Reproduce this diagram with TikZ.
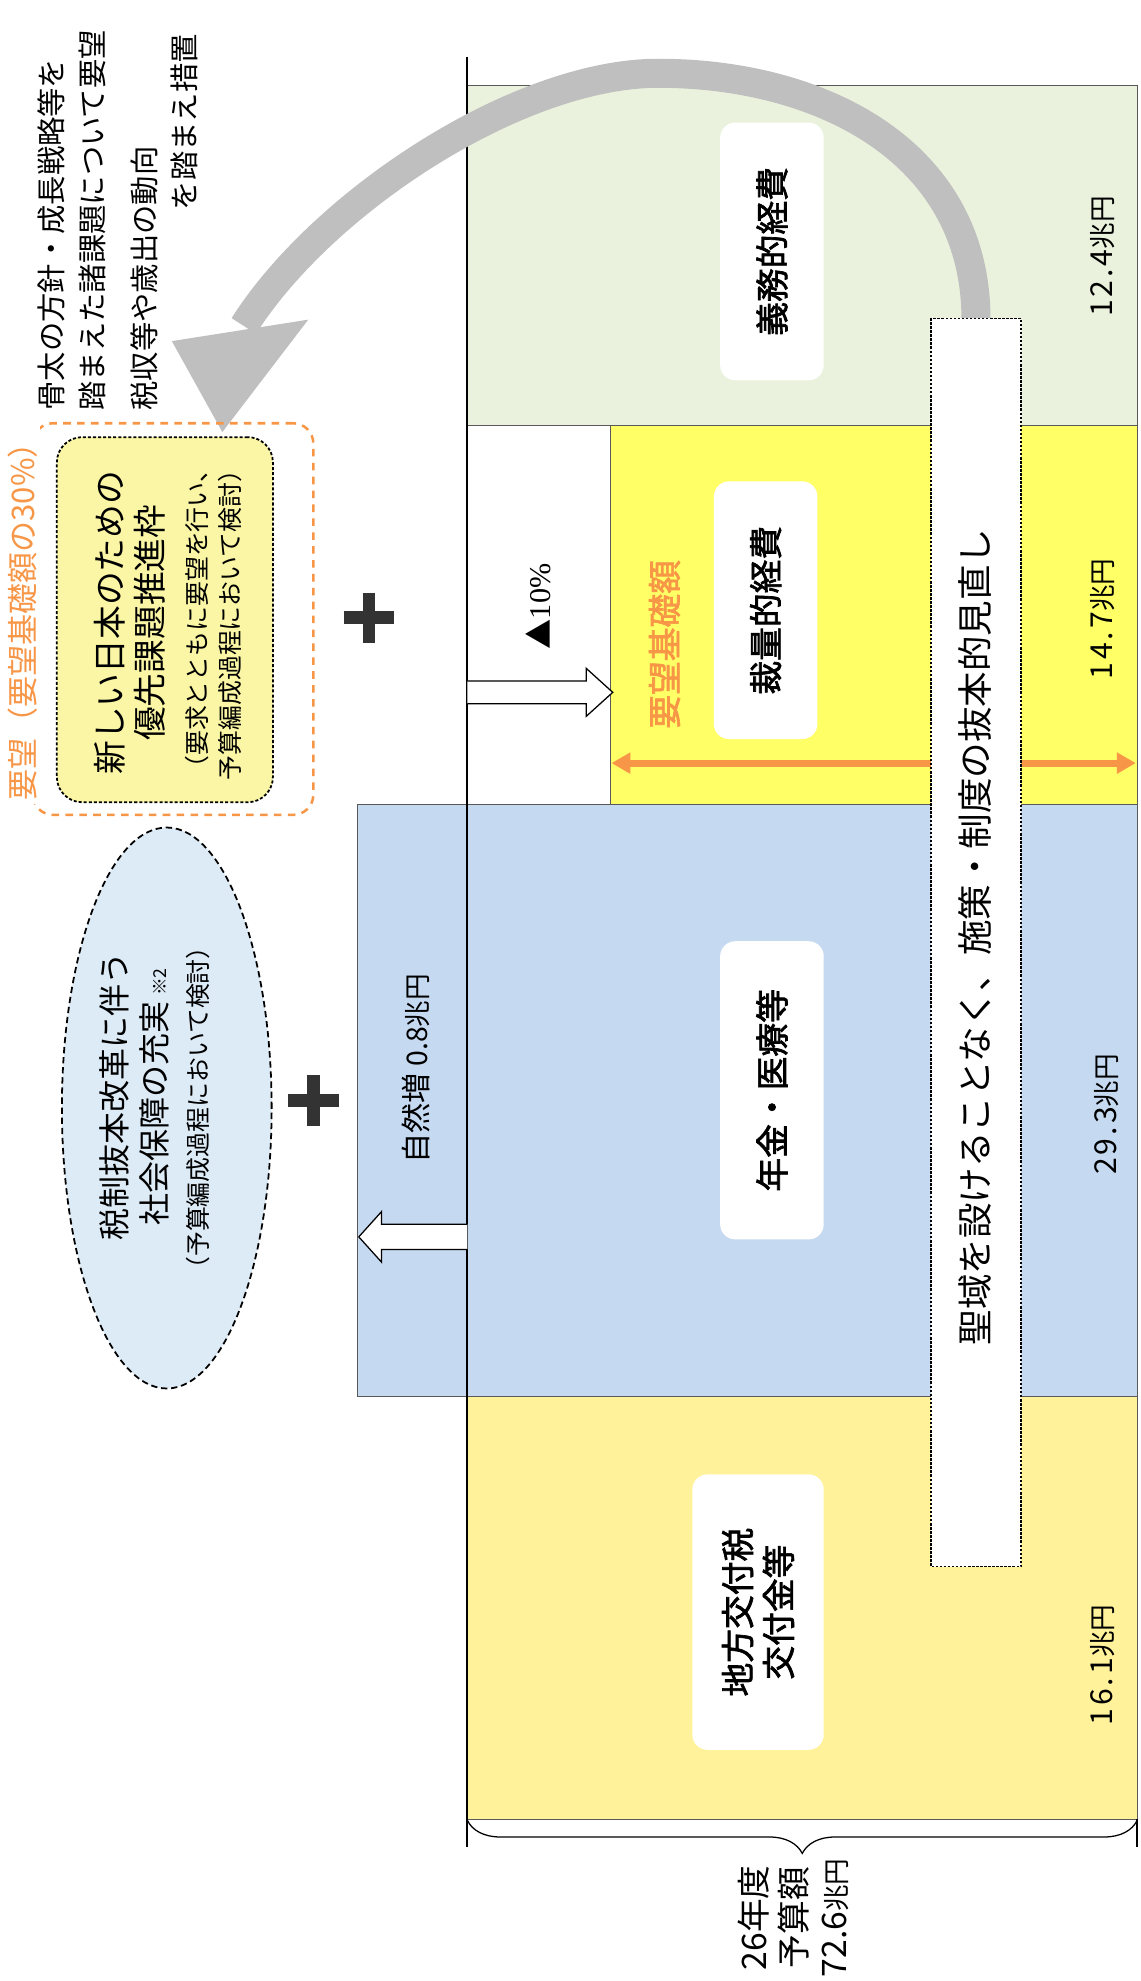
\documentclass[tikz,border=0pt]{standalone}
\usepackage{fontspec}
\newfontfamily\jp{Noto Sans CJK JP}
\newfontfamily\jpfett{Noto Sans CJK JP}[FakeBold=2]
\newfontfamily\jpweit{Noto Sans CJK JP}[LetterSpace=10]
\newfontfamily\serifziffer{Liberation Serif}
\usetikzlibrary{arrows.meta,shapes.geometric,decorations.pathreplacing}

\definecolor{gruenfl}{RGB}{234,242,221}
\definecolor{gelbfl}{RGB}{255,255,102}
\definecolor{blaufl}{RGB}{197,217,241}
\definecolor{sandfl}{RGB}{255,242,155}
\definecolor{orangel}{RGB}{247,150,70}
\definecolor{priofl}{RGB}{250,246,165}
\definecolor{wolkefl}{RGB}{221,235,247}
\definecolor{bogengrau}{RGB}{191,191,191}
\definecolor{plusgrau}{RGB}{51,51,51}

\newcommand{\choen}{{\jp\fontsize{30}{34}\selectfont 兆円}}

\begin{document}
\begin{tikzpicture}[x=0.5mm,y=-0.5mm,
    senkrecht/.style={rotate=90, inner sep=0pt},
    etikett/.style={senkrecht, fill=white, rounded corners=6mm, minimum height=41mm, align=center, font=\jpfett\fontsize{38}{46}\selectfont},
    betrag/.style={senkrecht, font=\jpweit\fontsize{34}{38}\selectfont},
    hinweis/.style={senkrecht, font=\jp\fontsize{33}{40}\selectfont},
    kasten/.style={draw=black!65, line width=0.4mm},
    hohlpfeil/.style={draw=black, fill=white, line width=0.5mm, line join=miter}]

  \useasboundingbox (0,0) rectangle (903,1568);

  % Ausgabenbloecke
  \filldraw[kasten, fill=gruenfl] (370,68) rectangle (900,337);    % 義務的経費
  \filldraw[kasten, fill=gelbfl] (483,337) rectangle (900,637);    % 裁量的経費
  \filldraw[kasten, fill=blaufl] (283,637) rectangle (900,1105);   % 年金・医療等
  \filldraw[kasten, fill=sandfl] (370,1105) rectangle (900,1440);  % 地方交付税

  % Achse
  \coordinate (achse oben) at (370,45);
  \coordinate (achse unten) at (370,1462);
  \draw[line width=0.8mm] (achse oben) -- (achse unten);

  % Klammer unten
  \draw[line width=0.5mm, decorate, decoration={brace, amplitude=13mm}] (900,1441) -- (370,1441);
  \draw[line width=0.5mm] (900,1440) -- (900,1462);
  \node[senkrecht, align=center, font=\jp\fontsize{38}{45}\selectfont] (gesamt) at (628,1518) {26年度\\予算額\\72.6\choen};

  % Hohlpfeile
  \coordinate (minus fuss) at (370,548);
  \coordinate (minus spitze) at (485,548);
  \draw[hohlpfeil] (minus fuss) ++(0,-9) -- (464,539) -- (464,529) -- (minus spitze) -- (464,567) -- (464,557) -- ++(-94,0);
  \coordinate (plus fuss) at (370,979);
  \coordinate (plus spitze) at (284,979);
  \draw[hohlpfeil] (plus fuss) ++(0,-10) -- (302,969) -- (302,959) -- (plus spitze) -- (302,999) -- (302,989) -- (370,989);

  % Bogenpfeil
  \node[minimum width=35.5mm, minimum height=494mm, inner sep=0pt] (streifen) at (772.5,746) {};
  \coordinate (bogen ende) at (193,258);
  \draw[line width=11.5mm, bogengrau] (streifen.north) .. controls (772,120) and (650,58) .. (521,58)
                                      .. controls (410,58) and (255,160) .. (bogen ende);
  \fill[bogengrau] (136,270) -- (244,253) -- (176,342) -- cycle;

  % Anforderungsbasis
  \coordinate (basis links) at (484,604);
  \coordinate (basis rechts) at (899,604);
  \draw[orangel, line width=2.7mm, {Triangle[length=7.5mm,width=8mm]}-{Triangle[length=7.5mm,width=8mm]}] (basis links) -- (basis rechts);
  \node[senkrecht, text=orangel, font=\jpfett\fontsize{38}{44}\selectfont] (basis) at (526,510) {要望基礎額};

  % Streifen
  \draw[fill=white, line width=0.5mm, dash pattern=on 1mm off 0.6mm] (streifen.north west) rectangle (streifen.south east);
  \node[senkrecht, font=\jp\fontsize{40}{48}\selectfont] (leitsatz) at (772,742) {聖域を設けることなく、施策・制度の抜本的見直し};

  % Etiketten
  \node[etikett, minimum width=102mm] (pflicht) at (611,199) {義務的経費};
  \node[etikett, minimum width=102mm] (ermessen) at (606,483) {裁量的経費};
  \node[etikett, minimum width=118mm] (rente) at (611,863) {年金・医療等};
  \node[etikett, minimum width=109mm, minimum height=52mm] (zuweisung) at (600,1276) {地方交付税\\交付金等};

  % Betraege
  \node[betrag] (b pflicht) at (873,203) {12.4\choen};
  \node[betrag] (b ermessen) at (873,490) {14.7\choen};
  \node[betrag] (b rente) at (876,882) {29.3\choen};
  \node[betrag] (b zuweisung) at (873,1318) {16.1\choen};
  \node[senkrecht, font=\jp\fontsize{34}{40}\selectfont] (zuwachs) at (329,846) {自然増 {\fontsize{32}{36}\selectfont 0.8}\choen};
  \node[senkrecht, font=\jp\fontsize{34}{40}\selectfont] (kuerzung) at (426,480) {▲{\serifziffer 10\%}};

  % Hinweis oben links
  \node[hinweis, anchor=west] (hinweis1) at (41,325) {骨太の方針・成長戦略等を};
  \node[hinweis, anchor=west] (hinweis2) at (73,325) {踏まえた諸課題について要望};
  \node[hinweis, anchor=west] (hinweis3) at (114,325) {税収等や歳出の動向};
  \node[hinweis, anchor=east] (hinweis4) at (146,27) {を踏まえ措置};

  % Wunschrahmen und Prioritaetsrahmen
  \node[draw=orangel, line width=1mm, dash pattern=on 3mm off 2.5mm, rounded corners=8mm,
        minimum width=111mm, minimum height=155mm] (wunschrahmen) at (137,490) {};
  \node[senkrecht, fill=white, inner sep=1mm, text=orangel, font=\jp\fontsize{35}{40}\selectfont] (wunsch) at (18,486) {要望（要望基礎額の30\%）};
  \node[draw, fill=priofl, line width=0.7mm, dash pattern=on 1.2mm off 0.8mm, rounded corners=10mm,
        minimum width=85.5mm, minimum height=144.5mm] (prio) at (130.5,490.5) {};
  \node[senkrecht, align=center, font=\jp\fontsize{38}{45}\selectfont] (prio titel) at (103,493) {新しい日本のための\\優先課題推進枠};
  \node[senkrecht, align=center, font=\jp\fontsize{28}{37}\selectfont] (prio notiz) at (169,490) {（要求とともに要望を行い、\\予算編成過程において検討）};

  % Sozialversicherung
  \node[draw, ellipse, fill=wolkefl, line width=0.7mm, dash pattern=on 2.5mm off 1.5mm,
        minimum width=83mm, minimum height=222mm] (wolke) at (132,877) {};
  \node[senkrecht, align=center, font=\jp\fontsize{36}{45}\selectfont] (sozial) at (106,868) {税制抜本改革に伴う\\社会保障の充実\,{\fontsize{20}{24}\selectfont ※2}};
  \node[senkrecht, font=\jp\fontsize{28}{34}\selectfont] (sozial notiz) at (157,877) {（予算編成過程において検討）};

  % Pluszeichen
  \draw[line width=5mm, plusgrau] (272,489) -- (312,489) (292,469) -- (292,509);
  \draw[line width=5mm, plusgrau] (228,871) -- (268,871) (248,851) -- (248,891);
\end{tikzpicture}
\end{document}
